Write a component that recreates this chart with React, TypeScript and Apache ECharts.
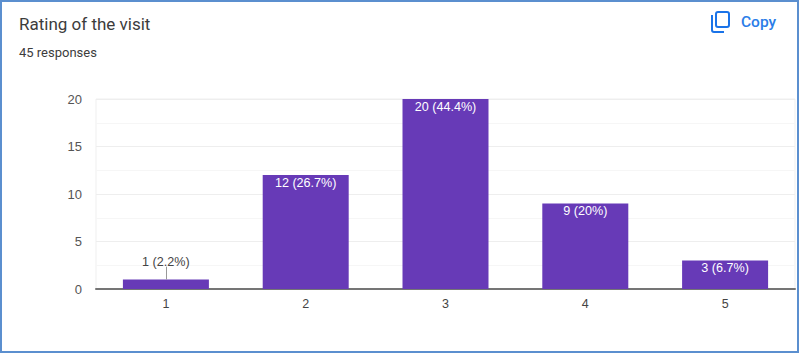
import React, { useEffect, useRef } from "react";
import * as echarts from "echarts";

const categories = ["1", "2", "3", "4", "5"];
const values = [1, 12, 20, 9, 3];
const percents = ["2.2%", "26.7%", "44.4%", "20%", "6.7%"];
const title = "Rating of the visit";
const subtitle = "45 responses";
const copyLabel = "Copy";

echarts.graphic.registerShape(
  "copyIcon",
  echarts.graphic.extendPath(
    "M2 4 L2 19 Q2 21 4 21 L14 21 M8 1 L17 1 Q19 1 19 3 L19 14 Q19 16 17 16 L8 16 Q6 16 6 14 L6 3 Q6 1 8 1 Z",
    {}
  ) as any
);

export default function App() {
  const ref = useRef<HTMLDivElement>(null);
  useEffect(() => {
    const chart = echarts.init(ref.current!, undefined, { renderer: "svg" });
    chart.setOption({
      animation: false,
      backgroundColor: "#ffffff",
      grid: { left: 96, right: 5, top: 99, bottom: 65, show: true, borderColor: "#efefef", borderWidth: 1 },
      xAxis: {
        type: "category",
        data: categories,
        axisLine: { lineStyle: { color: "#757575", width: 2 } },
        axisTick: { show: false },
        axisLabel: { color: "#444", fontFamily: "Liberation Sans", fontSize: 12.5, margin: 8 },
      },
      yAxis: {
        type: "value",
        min: 0,
        max: 20,
        interval: 5,
        axisLine: { show: false },
        axisTick: { show: false },
        axisLabel: { color: "#555", fontFamily: "Liberation Sans", fontSize: 13, margin: 14 },
        splitLine: { lineStyle: { color: "#eeeeee", width: 1 } },
        minorTick: { show: false, splitNumber: 2 },
        minorSplitLine: { show: true, lineStyle: { color: "#f6f6f6", width: 1 } },
      },
      series: [
        {
          type: "bar",
          barWidth: 86,
          data: values.map((v, i) => ({
            value: v,
            label:
              v < 2
                ? {
                    show: true,
                    position: "top",
                    distance: 11,
                    color: "#444",
                    formatter: `${v} (${percents[i]})`,
                  }
                : {
                    show: true,
                    position: "insideTop",
                    distance: 1,
                    color: "#ffffff",
                    formatter: `${v} (${percents[i]})`,
                  },
          })),
          itemStyle: { color: "#673ab7" },
          label: { fontFamily: "Liberation Sans", fontSize: 12.6 },
          markLine: {
            silent: true,
            symbol: "none",
            label: { show: false },
            lineStyle: { color: "#999", width: 1, type: "solid" },
            data: [
              [
                { coord: [categories[0], values[0]] },
                { coord: [categories[0], 2.35] },
              ],
            ],
          },
        },
      ],
      graphic: [
        {
          type: "rect",
          shape: { x: 1, y: 1, width: 797, height: 351 },
          style: { fill: "none", stroke: "#5b8fcf", lineWidth: 2 },
          z: 10,
        },
        {
          type: "text",
          x: 19,
          y: 15,
          style: { text: title, fill: "#3c3c3c", fontFamily: "Roboto", fontSize: 17, letterSpacing: 0.72 },
        },
        {
          type: "text",
          x: 19,
          y: 46,
          style: { text: subtitle, fill: "#3c3c3c", fontFamily: "Roboto", fontSize: 13, letterSpacing: 0.4 },
        },
        {
          type: "copyIcon",
          x: 710,
          y: 11,
          style: { fill: "none", stroke: "#1a73e8", lineWidth: 2 },
        },
        {
          type: "text",
          x: 741,
          y: 14,
          style: { text: copyLabel, fill: "#2a7de8", fontFamily: "Roboto", fontSize: 15.5, fontWeight: 500, letterSpacing: 0.9 },
        },
      ],
    });
    return () => chart.dispose();
  }, []);
  return <div ref={ref} style={{ position: "fixed", left: 0, top: 0, width: 800, height: 354 }} />;
}
